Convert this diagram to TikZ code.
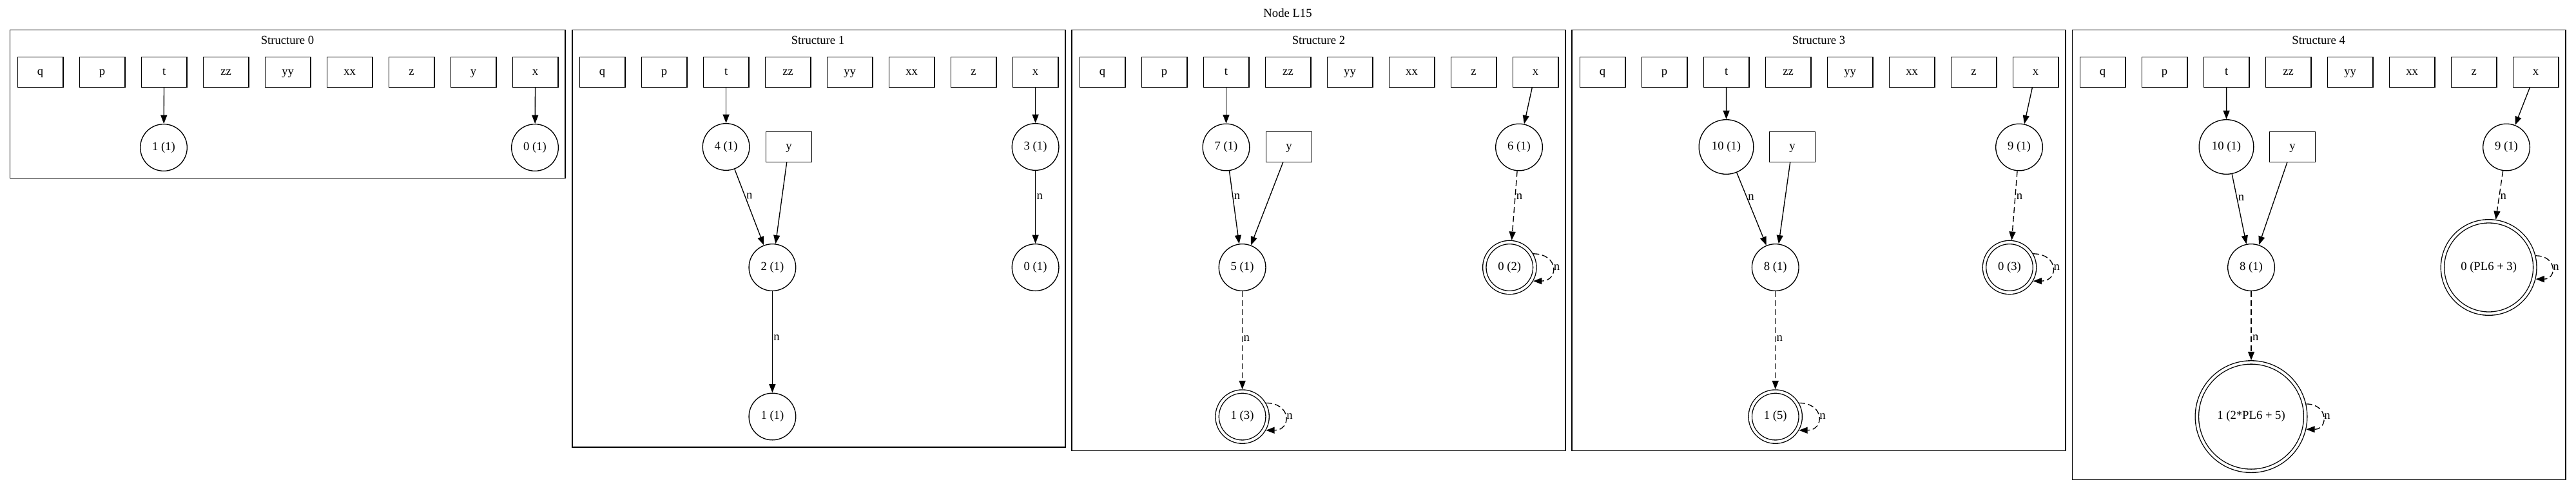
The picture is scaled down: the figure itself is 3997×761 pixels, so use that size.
\documentclass[tikz,border=0pt]{standalone}
\usepackage{fontspec}
\setmainfont{Liberation Serif}
\usetikzlibrary{arrows.meta}
\begin{document}
\begin{tikzpicture}[x=0.75pt,y=-0.75pt,
  every node/.style={font=\fontsize{14pt}{16pt}\selectfont},
  frame/.style={draw, line width=1pt},
  ttl/.style={inner sep=0pt},
  bx/.style={draw, rectangle, line width=1pt, minimum width=53pt, minimum height=35pt, inner sep=0pt, text height=9.5pt, text depth=3pt},
  cc/.style={draw, circle, line width=1pt, minimum size=#1, inner sep=0pt, text height=9.5pt, text depth=3pt},
  cc/.default=54.5pt,
  dc/.style={draw, circle, line width=1pt, double, double distance=3pt, minimum size=#1, inner sep=0pt, outer sep=2.5pt, text height=9.5pt, text depth=3pt},
  dc/.default=58.5pt,
  arr/.style={-{Triangle[length=10pt,width=7.5pt]}, line width=1pt},
  darr/.style={arr, dash pattern=on 7pt off 3.5pt},
  lbl/.style={anchor=west, inner sep=1pt, text height=6pt, text depth=0pt},
]
\useasboundingbox (0,0) rectangle (3997,761);
\node[ttl] (title) at (1998,20) {Node L15};

% ---------- Structure 0 ----------
\draw[frame] (15.5,46.7) rectangle (877,276.5);
\node[ttl] (s0) at (446,62) {Structure 0};
\foreach \lab [count=\i] in {q,p,t,zz,yy,xx,z,y,x}
  \node[bx] (a\lab) at ({62.6+96*(\i-1)},112) {\lab};
\node[cc] (a1) at (254,229) {1 (1)};
\node[cc] (a0) at (830,229) {0 (1)};
\draw[arr] (at) -- (a1);
\draw[arr] (ax) -- (a0);

% ---------- Structure 1 ----------
\draw[frame] (888,46.7) rectangle (1653,694);
\node[ttl] (s1) at (1269,62) {Structure 1};
\foreach \lab [count=\i] in {q,p,t,zz,yy,xx,z,x}
  \node[bx] (b\lab) at ({934.6+96*(\i-1)},112) {\lab};
\node[cc] (b4) at (1126.6,228) {4 (1)};
\node[bx] (by) at (1224,228) {y};
\node[cc] (b2) at (1198.4,415) {2 (1)};
\node[cc] (b1) at (1198.4,646.5) {1 (1)};
\node[cc] (b3) at (1606.6,228) {3 (1)};
\node[cc] (b0) at (1606.6,415) {0 (1)};
\draw[arr] (bt) -- (b4);
\draw[arr] (b4) -- node[lbl, pos=0.36] {n} (b2);
\draw[arr] (by) -- (b2);
\draw[arr] (b2) -- node[lbl, pos=0.46] {n} (b1);
\draw[arr] (bx) -- (b3);
\draw[arr] (b3) -- node[lbl, pos=0.36] {n} (b0);

% ---------- Structure 2 ----------
\draw[frame] (1663,46.7) rectangle (2429,699.5);
\node[ttl] (s2) at (2046,62) {Structure 2};
\foreach \lab [count=\i] in {q,p,t,zz,yy,xx,z,x}
  \node[bx] (c\lab) at ({1710.5+96*(\i-1)},112) {\lab};
\node[cc] (c7) at (1902.5,228.5) {7 (1)};
\node[bx] (cy) at (2000,228) {y};
\node[cc] (c5) at (1927.6,415) {5 (1)};
\node[dc] (c1) at (1927.6,646.6) {1 (3)};
\node[cc] (c6) at (2357,228.5) {6 (1)};
\node[dc] (c0) at (2342.3,415) {0 (2)};
\draw[arr] (ct) -- (c7);
\draw[arr] (c7) -- node[lbl, pos=0.36] {n} (c5);
\draw[arr] (cy) -- (c5);
\draw[darr] (c5) -- node[lbl, pos=0.48] {n} (c1);
\draw[darr] (c1.30) to[out=0, in=0, distance=30pt] node[lbl, pos=0.5] {n} (c1.-30);
\draw[arr] (cx) -- (c6);
\draw[darr] (c6) -- node[lbl, pos=0.37] {n} (c0);
\draw[darr] (c0.30) to[out=0, in=0, distance=30pt] node[lbl, pos=0.5] {n} (c0.-30);

% ---------- Structure 3 ----------
\draw[frame] (2439,46.7) rectangle (3205,699.5);
\node[ttl] (s3) at (2822,62) {Structure 3};
\foreach \lab [count=\i] in {q,p,t,zz,yy,xx,z,x}
  \node[bx] (d\lab) at ({2486.6+96*(\i-1)},112) {\lab};
\node[cc=63.5pt] (d10) at (2678.5,228) {10 (1)};
\node[bx] (dy) at (2781,228) {y};
\node[cc] (d8) at (2754.7,415) {8 (1)};
\node[dc] (d1) at (2754.7,646.6) {1 (5)};
\node[cc] (d9) at (3133,228.5) {9 (1)};
\node[dc] (d0) at (3118,415) {0 (3)};
\draw[arr] (dt) -- (d10);
\draw[arr] (d10) -- node[lbl, pos=0.34] {n} (d8);
\draw[arr] (dy) -- (d8);
\draw[darr] (d8) -- node[lbl, pos=0.48] {n} (d1);
\draw[darr] (d1.30) to[out=0, in=0, distance=30pt] node[lbl, pos=0.5] {n} (d1.-30);
\draw[arr] (dx) -- (d9);
\draw[darr] (d9) -- node[lbl, pos=0.37] {n} (d0);
\draw[darr] (d0.30) to[out=0, in=0, distance=30pt] node[lbl, pos=0.5] {n} (d0.-30);

% ---------- Structure 4 ----------
\draw[frame] (3215.7,46.7) rectangle (3981,744.5);
\node[ttl] (s4) at (3597.6,62) {Structure 4};
\foreach \lab [count=\i] in {q,p,t,zz,yy,xx,z,x}
  \node[bx] (e\lab) at ({3262.6+96*(\i-1)},112) {\lab};
\node[cc=63.5pt] (e10) at (3454.5,228) {10 (1)};
\node[bx] (ey) at (3557,228) {y};
\node[cc] (e8) at (3493,415) {8 (1)};
\node[dc=126.25pt] (e1) at (3493,646.6) {1 (2*PL6 + 5)};
\node[cc] (e9) at (3889,228.5) {9 (1)};
\node[dc=107.5pt] (e0) at (3861.6,415) {0 (PL6 + 3)};
\draw[arr] (et) -- (e10);
\draw[arr] (e10) -- node[lbl, pos=0.34] {n} (e8);
\draw[arr] (ey) -- (e8);
\draw[darr] (e8) -- node[lbl, pos=0.68] {n} (e1);
\draw[darr] (e1.13) to[out=0, in=0, distance=26pt] node[lbl, pos=0.5] {n} (e1.-13);
\draw[arr] (ex) -- (e9);
\draw[darr] (e9) -- node[lbl, pos=0.54] {n} (e0);
\draw[darr] (e0.14) to[out=0, in=0, distance=25pt] node[lbl, pos=0.5] {n} (e0.-14);
\end{tikzpicture}
\end{document}
